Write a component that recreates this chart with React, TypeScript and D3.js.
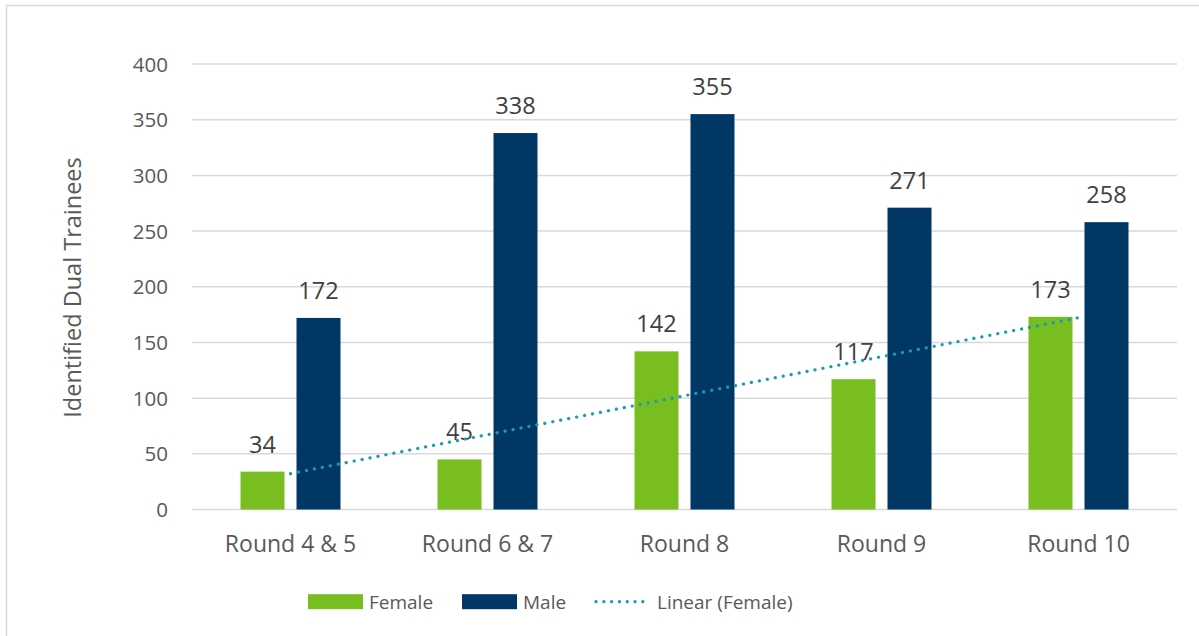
import React from "react";
import * as d3 from "d3";

const categories = ["Round 4 & 5", "Round 6 & 7", "Round 8", "Round 9", "Round 10"];
const female = [34, 45, 142, 117, 173];
const male = [172, 338, 355, 271, 258];
const yTicks = [0, 50, 100, 150, 200, 250, 300, 350, 400];
const seriesNames = ["Female", "Male"];
const seriesColors = ["#78BE20", "#003764"];
const trendColor = "#1A9AB4";

const W = 1199;
const H = 636;
const FONT = "'Open Sans', 'Noto Sans', sans-serif";

export default function App() {
  const x0 = d3.scaleBand<string>().domain(categories).range([192, 1177]).padding(0);
  const groupW = 100;
  const x1 = d3.scaleBand<string>().domain(seriesNames).range([0, groupW]).paddingInner(0.2143).paddingOuter(0);
  const y = d3.scaleLinear().domain([0, 400]).range([509.5, 64]);
  const values = [female, male];

  // linear trendline (least squares) for Female
  const xs = female.map((_, i) => i + 1);
  const mx = d3.mean(xs) as number;
  const my = d3.mean(female) as number;
  const slope =
    d3.sum(xs.map((xv, i) => (xv - mx) * (female[i] - my))) / d3.sum(xs.map((xv) => (xv - mx) ** 2));
  const intercept = my - slope * mx;
  const trendPts: [number, number][] = categories.map((c, i) => [
    (x0(c) as number) + x0.bandwidth() / 2,
    y(intercept + slope * (i + 1)),
  ]);
  const line = d3.line();
  const trendPath = line([trendPts[0], trendPts[trendPts.length - 1]]) as string;

  const legendY = 601.7;

  return (
    <svg
      width={W}
      height={H}
      style={{ position: "absolute", left: 0, top: 0, background: "#fff" }}
      fontFamily={FONT}
    >
      <rect x={0} y={0} width={W} height={H} fill="#fff" />
      {/* frame */}
      <line x1={6.5} x2={W} y1={5.5} y2={5.5} stroke="#D9D9D9" strokeWidth={1.5} />
      <line x1={6.5} x2={6.5} y1={5.5} y2={H} stroke="#D9D9D9" strokeWidth={1.5} />

      {/* gridlines */}
      {yTicks.map((t) => (
        <line key={t} x1={192} x2={1177} y1={y(t)} y2={y(t)} stroke="#D9D9D9" strokeWidth={1.5} />
      ))}
      {/* y tick labels */}
      {yTicks.map((t) => (
        <text key={"l" + t} x={168} y={y(t) + 7.5} textAnchor="end" fontSize={20.5} fill="#595959">
          {t}
        </text>
      ))}
      {/* axis title */}
      <text
        transform="translate(81,287.5) rotate(-90)"
        textAnchor="middle"
        fontSize={23.5}
        fill="#595959"
      >
        Identified Dual Trainees
      </text>

      {/* bars */}
      {categories.map((c, i) => {
        const gx = (x0(c) as number) + x0.bandwidth() / 2 - groupW / 2;
        return (
          <g key={c}>
            {seriesNames.map((s, si) => {
              const v = values[si][i];
              const bx = gx + (x1(s) as number);
              return (
                <g key={s}>
                  <rect x={bx} y={y(v)} width={x1.bandwidth()} height={y(0) - y(v)} fill={seriesColors[si]} />
                  <text
                    x={bx + x1.bandwidth() / 2}
                    y={y(v) - 19}
                    textAnchor="middle"
                    fontSize={23.5}
                    fill="#404040"
                  >
                    {v}
                  </text>
                </g>
              );
            })}
            <text
              x={(x0(c) as number) + x0.bandwidth() / 2}
              y={552}
              textAnchor="middle"
              fontSize={23}
              fill="#595959"
            >
              {c}
            </text>
          </g>
        );
      })}

      {/* trendline */}
      <path
        d={trendPath}
        fill="none"
        stroke={trendColor}
        strokeWidth={3.2}
        strokeLinecap="round"
        strokeDasharray="0.1 8"
      />

      {/* legend */}
      <rect x={308} y={legendY - 7.5} width={55} height={15} fill={seriesColors[0]} />
      <text x={369} y={legendY + 7} fontSize={19} fill="#595959">
        Female
      </text>
      <rect x={462} y={legendY - 7.5} width={55} height={15} fill={seriesColors[1]} />
      <text x={523} y={legendY + 7} fontSize={19} fill="#595959">
        Male
      </text>
      <line
        x1={596}
        x2={650}
        y1={legendY}
        y2={legendY}
        stroke={trendColor}
        strokeWidth={3.2}
        strokeLinecap="round"
        strokeDasharray="0.1 7.7"
      />
      <text x={657} y={legendY + 7} fontSize={19} fill="#595959">
        Linear (Female)
      </text>
    </svg>
  );
}
